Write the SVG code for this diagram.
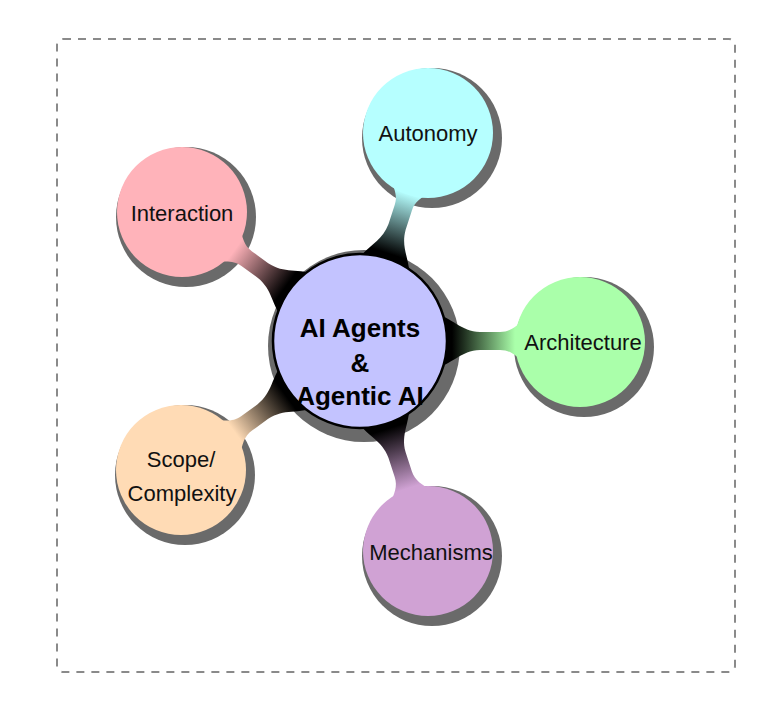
<svg xmlns="http://www.w3.org/2000/svg" width="782" height="718" viewBox="0 0 782 718">
<style>
.shadow{fill:#6a6a6a}
.child{stroke:none}
.lbl{font-family:"Liberation Sans",Arial,sans-serif;font-size:22px;fill:#111;text-anchor:middle}
.root{font-family:"Liberation Sans",Arial,sans-serif;font-size:26px;font-weight:bold;fill:#000;text-anchor:middle}
.frame{fill:none;stroke:#8a8a8a;stroke-width:2;stroke-dasharray:8 7}
</style>
<defs>
<path id="conn" d="M70,-30 C95,-22 100,-10 120,-9 L140,-9 C150,-9 155,-14 166,-23 L166,23 C155,14 150,9 140,9 L120,9 C100,10 95,22 70,30 Z"/>
<linearGradient id="gArch" gradientUnits="userSpaceOnUse" x1="92" y1="0" x2="155" y2="0"><stop offset="0" stop-color="#000"/><stop offset="1" stop-color="#aaffaa"/></linearGradient>
<linearGradient id="gMech" gradientUnits="userSpaceOnUse" x1="92" y1="0" x2="155" y2="0"><stop offset="0" stop-color="#000"/><stop offset="1" stop-color="#d0a2d4"/></linearGradient>
<linearGradient id="gScope" gradientUnits="userSpaceOnUse" x1="92" y1="0" x2="155" y2="0"><stop offset="0" stop-color="#000"/><stop offset="1" stop-color="#ffdbb5"/></linearGradient>
<linearGradient id="gInter" gradientUnits="userSpaceOnUse" x1="92" y1="0" x2="155" y2="0"><stop offset="0" stop-color="#000"/><stop offset="1" stop-color="#ffb3ba"/></linearGradient>
<linearGradient id="gAuto" gradientUnits="userSpaceOnUse" x1="92" y1="0" x2="155" y2="0"><stop offset="0" stop-color="#000"/><stop offset="1" stop-color="#b6ffff"/></linearGradient>
</defs>
<rect width="782" height="718" fill="#ffffff"/>
<rect class="frame" x="57" y="39" width="678" height="633" rx="6"/>
<g id="shadows">
<circle class="shadow" cx="364" cy="346" r="96"/>
<circle class="shadow" cx="432" cy="138" r="70"/>
<circle class="shadow" cx="186" cy="217" r="70"/>
<circle class="shadow" cx="584" cy="347" r="70"/>
<circle class="shadow" cx="185" cy="475" r="70"/>
<circle class="shadow" cx="432" cy="556" r="70"/>
</g>
<g id="connectors">
<use href="#conn" fill="url(#gArch)" transform="translate(360,341) rotate(0)"/>
<use href="#conn" fill="url(#gMech)" transform="translate(360,341) rotate(72)"/>
<use href="#conn" fill="url(#gScope)" transform="translate(360,341) rotate(144)"/>
<use href="#conn" fill="url(#gInter)" transform="translate(360,341) rotate(-144)"/>
<use href="#conn" fill="url(#gAuto)" transform="translate(360,341) rotate(-72)"/>
</g>
<g id="node-autonomy">
<circle class="child" cx="428" cy="133" r="65" fill="#b6ffff"/>
<text class="lbl" x="428" y="141">Autonomy</text>
</g>
<g id="node-interaction">
<circle class="child" cx="182" cy="212" r="65" fill="#ffb3ba"/>
<text class="lbl" x="182" y="221">Interaction</text>
</g>
<g id="node-architecture">
<circle class="child" cx="580" cy="342" r="65" fill="#aaffaa"/>
<text class="lbl" x="583" y="350">Architecture</text>
</g>
<g id="node-scope">
<circle class="child" cx="181" cy="470" r="65" fill="#ffdbb5"/>
<text class="lbl" x="181" y="467">Scope/</text>
<text class="lbl" x="182" y="501">Complexity</text>
</g>
<g id="node-mechanisms">
<circle class="child" cx="428" cy="551" r="65" fill="#d0a2d4"/>
<text class="lbl" x="431" y="560">Mechanisms</text>
</g>
<g id="node-root">
<circle cx="360" cy="341" r="87" fill="#c3c3ff" stroke="#000" stroke-width="2.5"/>
<text class="root" x="360" y="337">AI Agents</text>
<text class="root" x="360" y="372">&amp;</text>
<text class="root" x="360" y="405">Agentic AI</text>
</g>
</svg>
